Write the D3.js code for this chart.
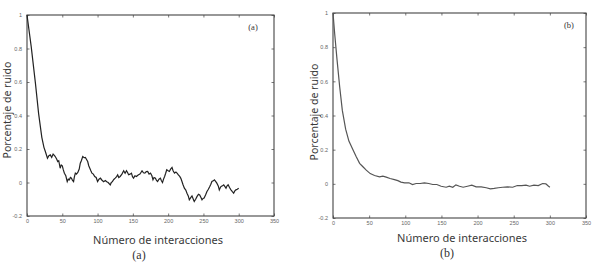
<!DOCTYPE html>
<html>
<head>
<meta charset="utf-8">
<script src="https://cdn.jsdelivr.net/npm/d3@7"></script>
<style>
  html, body { margin: 0; padding: 0; background: #fff; }
  svg { display: block; }
</style>
</head>
<body>
<div id="chart"></div>
<script>
// Noise percentage vs. iteration count, two panels (a) and (b)
const xTicks = [0, 50, 100, 150, 200, 250, 300, 350];
const yTicks = [-0.2, 0, 0.2, 0.4, 0.6, 0.8, 1];
const yTickLabels = ['-0.2', '0', '0.2', '0.4', '0.6', '0.8', '1'];

// panel (a): noisy decay
const iterA = [0, 6, 12, 16.5, 21, 24, 26, 29, 31, 33, 35, 37, 39, 40, 42, 43.5, 45, 47, 48.5, 50, 51.5, 53, 55, 57, 58.5, 60, 61.5, 63, 64.5, 66, 67, 68.5, 70, 72, 74, 75.5, 77, 79, 81, 82.7, 84, 86, 87.5, 89, 90.5, 92, 94, 96, 98, 100, 102, 104, 106, 108.6, 111, 113, 115, 118, 119.5, 121, 123, 125, 127, 128.5, 130, 132, 134.5, 137, 139, 141, 142.5, 144, 146, 148, 149.5, 151, 153, 155, 157.5, 160, 161.5, 163, 165, 167, 169, 171, 173, 175, 177, 178.5, 180, 182, 183.5, 185, 187, 189, 190.5, 192, 193.5, 195, 196.5, 198, 200, 201.7, 203.5, 205.5, 207, 209, 211, 212.6, 214.5, 216.4, 218, 219.6, 221, 223, 225, 226.7, 228.5, 230, 232, 233.8, 235.5, 237, 239, 241, 243, 244.7, 246.5, 248, 249.5, 251, 253, 255, 257, 259, 260.5, 262, 264, 265.5, 267, 269, 271, 272.5, 274, 275, 277, 278.7, 280.5, 282, 283.5, 285, 287, 289, 291, 292.8, 294.5, 296, 298, 300];
const noiseA = [1.0, 0.81, 0.59, 0.41, 0.27, 0.21, 0.185, 0.145, 0.16, 0.165, 0.15, 0.17, 0.16, 0.155, 0.14, 0.125, 0.13, 0.085, 0.105, 0.1, 0.075, 0.055, 0.04, 0.005, 0.02, 0.016, 0.03, 0.026, 0.012, 0.005, 0.03, 0.056, 0.05, 0.06, 0.08, 0.115, 0.13, 0.155, 0.148, 0.15, 0.14, 0.125, 0.1, 0.085, 0.07, 0.056, 0.05, 0.036, 0.03, 0.006, 0.02, 0.026, 0.015, 0.005, 0.012, 0.005, 0.0, -0.014, 0.0, 0.005, 0.018, 0.026, 0.035, 0.046, 0.03, 0.036, 0.05, 0.07, 0.055, 0.07, 0.06, 0.046, 0.05, 0.056, 0.035, 0.026, 0.04, 0.036, 0.045, 0.05, 0.06, 0.07, 0.058, 0.056, 0.065, 0.066, 0.05, 0.056, 0.04, 0.016, 0.03, 0.026, 0.012, 0.006, 0.02, 0.026, 0.01, 0.0, 0.02, 0.036, 0.055, 0.076, 0.07, 0.066, 0.08, 0.09, 0.07, 0.056, 0.062, 0.056, 0.045, 0.036, 0.025, 0.006, -0.012, -0.034, -0.045, -0.064, -0.08, -0.103, -0.09, -0.08, -0.098, -0.113, -0.1, -0.083, -0.07, -0.074, -0.09, -0.103, -0.095, -0.093, -0.075, -0.054, -0.04, -0.024, -0.01, 0.006, 0.01, 0.016, 0.008, -0.004, -0.02, -0.044, -0.03, -0.024, -0.02, -0.014, -0.025, -0.034, -0.02, -0.014, -0.03, -0.044, -0.055, -0.064, -0.05, -0.044, -0.04, -0.034];

// panel (b): smooth decay
const iterB = [0, 2.3, 5.5, 9.2, 12.9, 17.5, 22, 27.6, 32, 36.8, 41.4, 46, 51.5, 57.5, 64.4, 69, 73.6, 79, 85, 89.7, 94, 99, 105, 110, 115, 120.6, 126.5, 132.5, 138, 143.6, 149.6, 156.5, 161, 165.7, 170, 175, 180, 186, 192, 198, 205, 212, 217.7, 223, 228.7, 234.7, 241.6, 248.5, 255, 261, 267, 272, 278, 284, 290, 294.5, 297, 300];
const noiseB = [1.0, 0.88, 0.73, 0.57, 0.43, 0.32, 0.25, 0.2, 0.16, 0.12, 0.1, 0.08, 0.06, 0.049, 0.041, 0.045, 0.039, 0.031, 0.025, 0.019, 0.01, 0.006, 0.006, -0.004, 0.002, 0.002, 0.006, 0.002, -0.004, -0.004, -0.014, -0.02, -0.014, -0.02, -0.006, -0.014, -0.02, -0.014, -0.008, -0.018, -0.018, -0.023, -0.029, -0.027, -0.023, -0.02, -0.018, -0.02, -0.01, -0.01, -0.008, -0.014, -0.008, -0.01, 0.002, 0.0, -0.01, -0.02];

const svg = d3.select('#chart')
  .append('svg')
  .attr('width', 600)
  .attr('height', 270);

const sans = '"Noto Sans", "Open Sans", Arial, sans-serif';

function drawPanel(p) {
  const x = d3.scaleLinear().domain([0, 350]).range([p.left, p.right]);
  const y = d3.scaleLinear().domain([-0.2, 1]).range([p.bottom, p.top]);
  const g = svg.append('g');

  // inward ticks on all four sides (matlab style)
  const tickLen = 2.5;
  g.append('g')
    .attr('transform', `translate(0,${p.bottom})`)
    .call(d3.axisBottom(x).tickValues(xTicks).tickSize(-tickLen).tickPadding(3).tickFormat(d3.format('d')))
    .call(a => a.select('.domain').remove());
  g.append('g')
    .attr('transform', `translate(0,${p.top})`)
    .call(d3.axisTop(x).tickValues(xTicks).tickSize(-tickLen).tickFormat(''))
    .call(a => a.select('.domain').remove());
  g.append('g')
    .attr('transform', `translate(${p.left},0)`)
    .call(d3.axisLeft(y).tickValues(yTicks).tickSize(-tickLen).tickPadding(5).tickFormat((d, i) => yTickLabels[i]))
    .call(a => a.select('.domain').remove());
  g.append('g')
    .attr('transform', `translate(${p.right},0)`)
    .call(d3.axisRight(y).tickValues(yTicks).tickSize(-tickLen).tickFormat(''))
    .call(a => a.select('.domain').remove());

  g.selectAll('.tick line').attr('stroke', '#555').attr('stroke-width', 0.8);
  g.selectAll('.tick text')
    .attr('fill', '#666')
    .style('font-family', 'Liberation Sans, Arial, sans-serif')
    .style('font-size', '5.5px');

  // frame
  g.append('rect')
    .attr('x', p.left).attr('y', p.top)
    .attr('width', p.right - p.left).attr('height', p.bottom - p.top)
    .attr('fill', 'none')
    .attr('stroke', '#444')
    .attr('stroke-width', 1.1);

  // curve
  const pts = p.xs.map((v, i) => [v, p.ys[i]]);
  g.append('path')
    .datum(pts)
    .attr('fill', 'none')
    .attr('stroke', p.color)
    .attr('stroke-width', p.width)
    .attr('d', d3.line().x(d => x(d[0])).y(d => y(d[1])));

  // axis titles
  g.append('text')
    .attr('x', p.xTitleX)
    .attr('y', p.xTitleY)
    .attr('text-anchor', 'middle')
    .attr('fill', '#3a3a3a')
    .style('font-family', sans)
    .style('font-size', '11px')
    .text('Número de interacciones');
  g.append('text')
    .attr('transform', `translate(${p.yTitleX},${p.yTitleC}) rotate(-90)`)
    .attr('text-anchor', 'middle')
    .attr('fill', '#3a3a3a')
    .style('font-family', sans)
    .style('font-size', '10.5px')
    .text('Porcentaje de ruido');

  // panel labels
  g.append('text')
    .attr('x', p.tagX).attr('y', p.top + 15)
    .attr('text-anchor', 'middle')
    .attr('fill', '#333')
    .style('font-family', 'Liberation Serif, serif')
    .style('font-size', '8.5px')
    .text(p.tag);
  g.append('text')
    .attr('x', p.capX).attr('y', p.capY)
    .attr('text-anchor', 'middle')
    .attr('fill', '#333')
    .style('font-family', 'Liberation Serif, serif')
    .style('font-size', '12px')
    .text(p.tag);
}

drawPanel({left: 27, right: 274, top: 15, bottom: 216, xs: iterA, ys: noiseA,
  color: '#222', width: 1.2, tag: '(a)', tagX: 253, capX: 139, capY: 259,
  xTitleX: 158, xTitleY: 244, yTitleX: 11, yTitleC: 110});
drawPanel({left: 333, right: 586, top: 13, bottom: 218, xs: iterB, ys: noiseB,
  color: '#555', width: 1.2, tag: '(b)', tagX: 569, capX: 447, capY: 257,
  xTitleX: 462, xTitleY: 242, yTitleX: 318, yTitleC: 112});
</script>
</body>
</html>
